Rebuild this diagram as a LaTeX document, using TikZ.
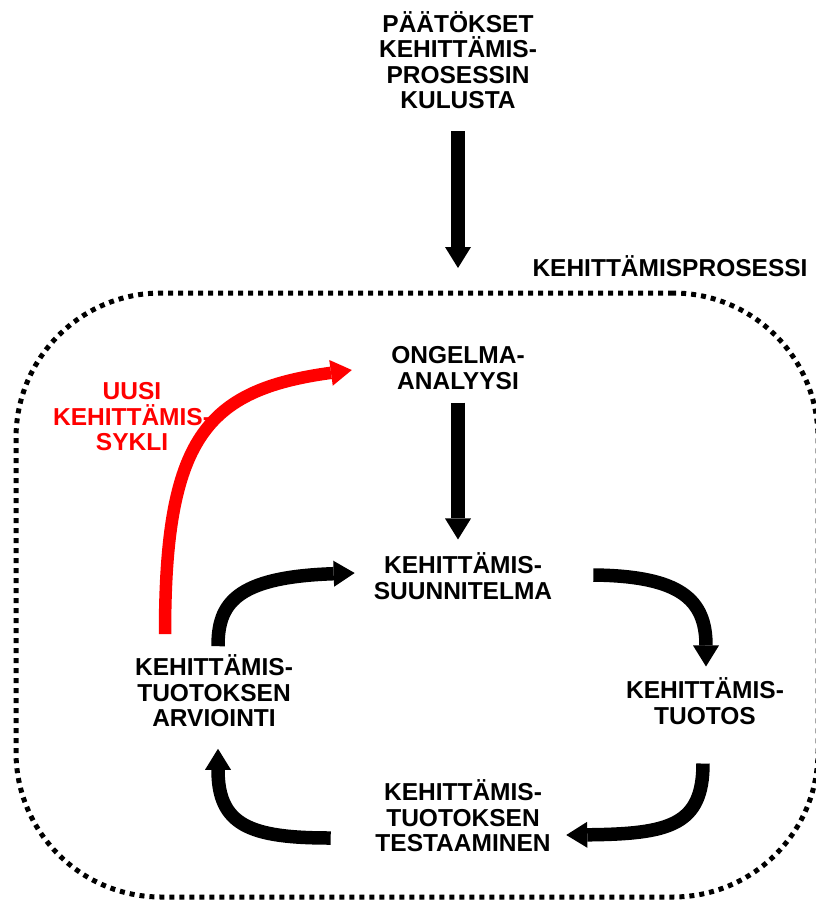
\documentclass[tikz,border=0pt]{standalone}
\usepackage{fontspec}
\setmainfont{Liberation Sans}
\usetikzlibrary{arrows.meta,calc}

\begin{document}
\begin{tikzpicture}[x=1pt, y=-1pt,
    font=\bfseries\fontsize{24.5}{25.5}\selectfont]
    % Setup the styles for the phases and the arrows
    \tikzset{phase/.style={
        align=center,
        inner sep=0pt},
      flow/.style={
        line width=13.5pt,
        -{Triangle[length=21pt, width=26pt, line width=0pt]}},
      process box/.style={
        draw,
        rectangle,
        line width=5pt,
        dash pattern=on 5pt off 5pt,
        rounded corners=145pt,
        minimum width=802pt,
        minimum height=604pt,
        inner sep=0pt,
        outer sep=0pt}}
    \useasboundingbox (0,0) rectangle (815,903);

    % Draw the process frame and the phases
    \node[process box] at (417, 595)     (prosessi)     {};
    \node[phase] at (670, 266)           (prosessinimi) {KEHITTÄMISPROSESSI};
    \node[phase] at (458, 60)            (paatokset)    {PÄÄTÖKSET\\KEHITTÄMIS-\\PROSESSIN\\KULUSTA};
    \node[phase] at (458, 368)           (ongelma)      {ONGELMA-\\ANALYYSI};
    \node[phase] at (463, 576)           (suunnitelma)  {KEHITTÄMIS-\\SUUNNITELMA};
    \node[phase] at (705, 701)           (tuotos)       {KEHITTÄMIS-\\TUOTOS};
    \node[phase] at (463, 816)           (testaus)      {KEHITTÄMIS-\\TUOTOKSEN\\TESTAAMINEN};
    \node[phase] at (214, 691)           (arviointi)    {KEHITTÄMIS-\\TUOTOKSEN\\ARVIOINTI};
    \node[phase, text=red] at (132, 417) (uusi)         {UUSI\\KEHITTÄMIS-\\SYKLI};

    % Connect the phases with arrows
    \draw[flow, shorten <=22pt, shorten >=25pt] (paatokset) -- (paatokset |- prosessi.north);
    \draw[flow, shorten <=13pt, shorten >=13pt] (ongelma) -- (ongelma |- suunnitelma.north);
    \draw[flow] ($(suunnitelma.east)+(41,-1)$) .. controls +(87,1) and +(0,-67) .. ($(tuotos.north)+(1,-11)$);
    \draw[flow] ($(tuotos.south)+(-2,39)$) .. controls +(0,62) and +(103,-1) .. ($(testaus.east)+(15.5,19)$);
    \draw[flow] ($(testaus.west)+(-44.5,22)$) .. controls +(-80,0) and +(0,77) .. ($(arviointi.south)+(4,21.5)$);
    \draw[flow] ($(arviointi.north)+(4,-8.5)$) .. controls +(0,-42) and +(-120,4) .. ($(suunnitelma.west)+(-19,-3)$);
    \draw[flow, red, line width=12.5pt] ($(arviointi.north)+(-49,-20.5)$) .. controls +(0,-195) and +(-147,20) .. ($(ongelma.west)+(-39.3,2)$);
\end{tikzpicture}
\end{document}
